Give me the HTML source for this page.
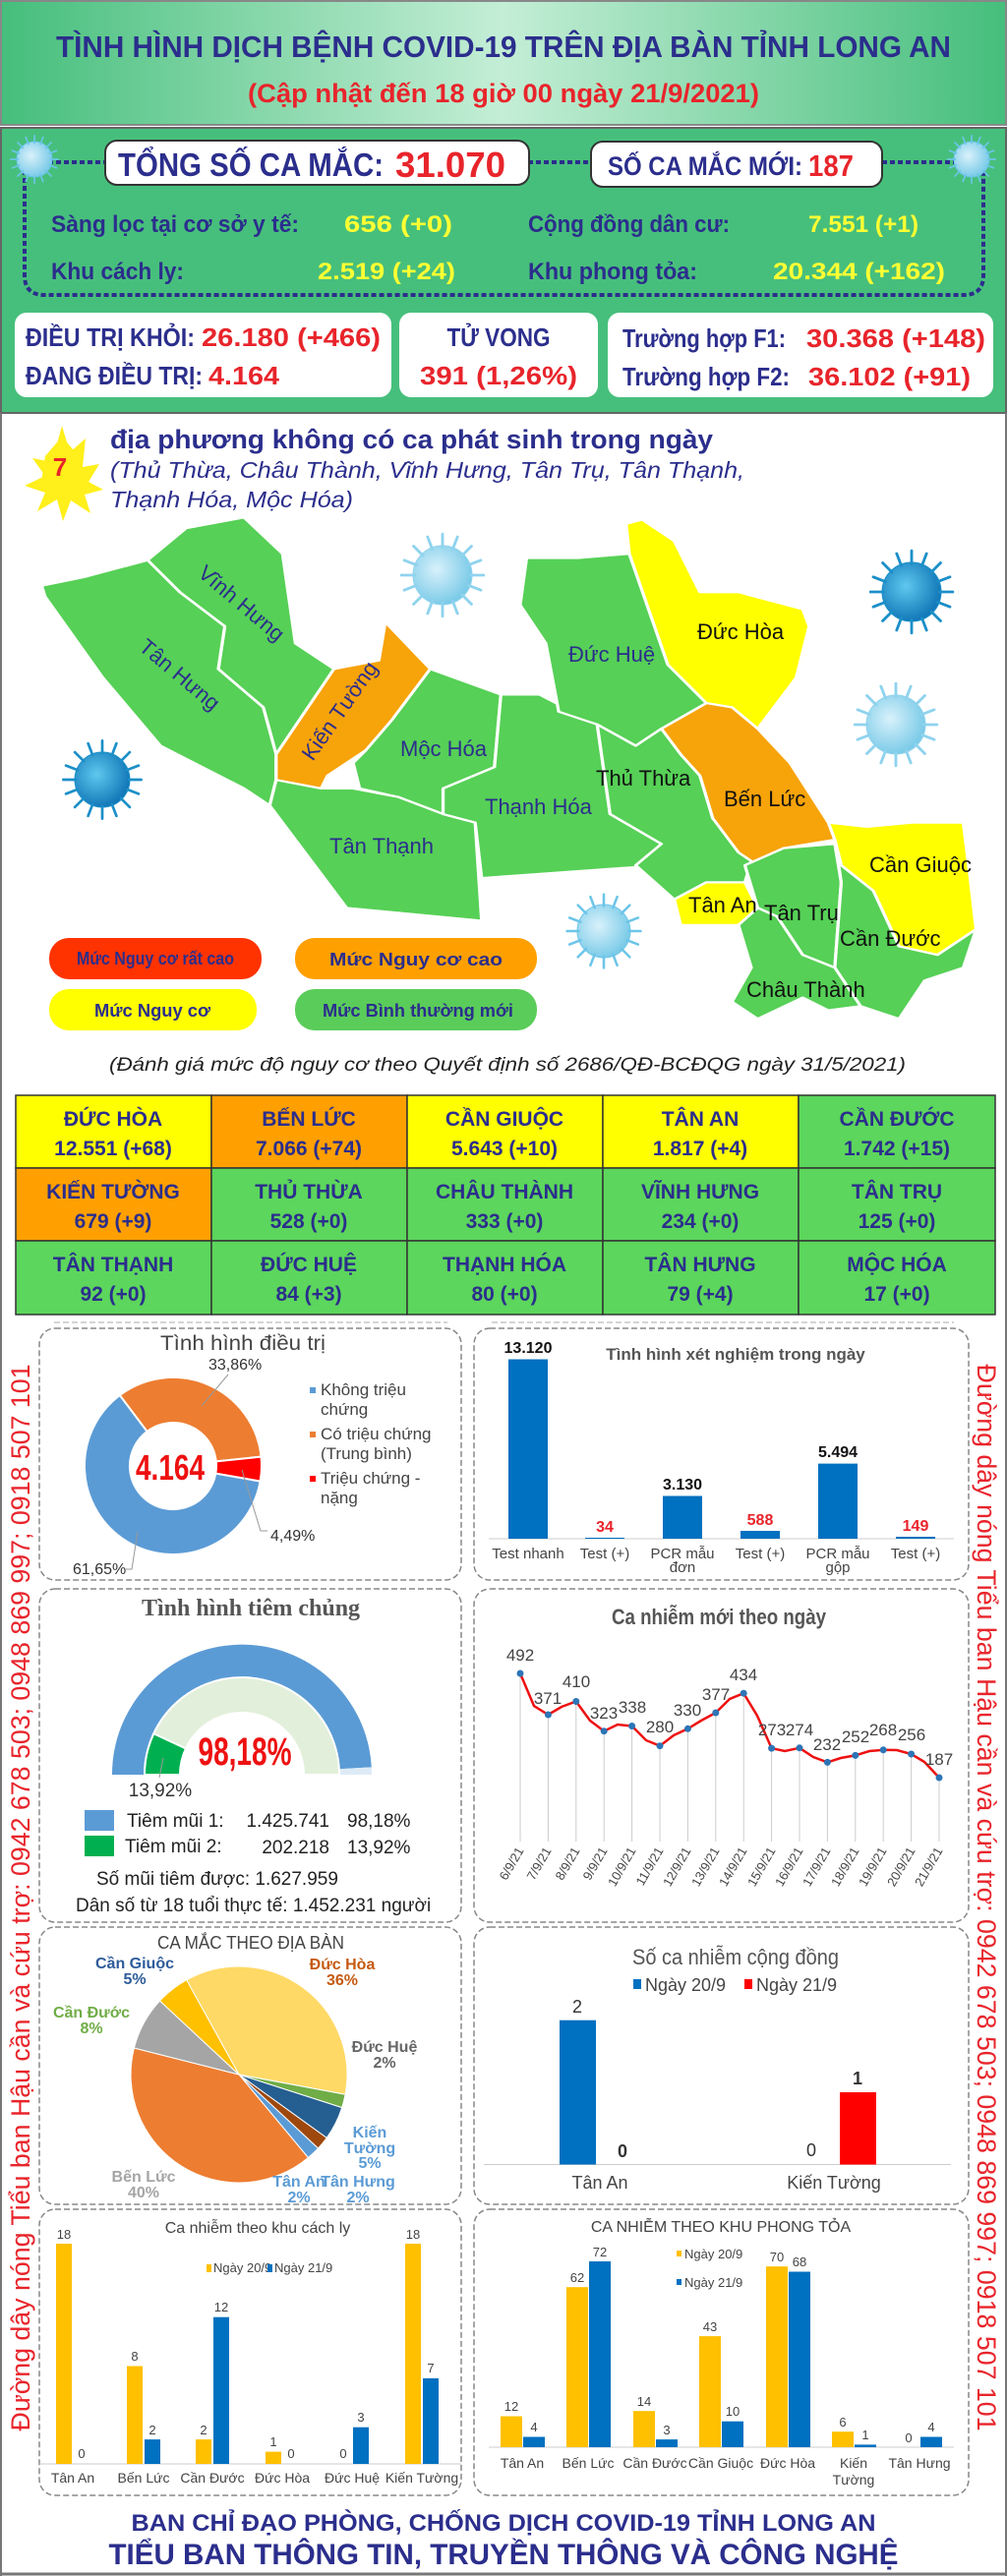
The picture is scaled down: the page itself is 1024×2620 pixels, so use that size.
<!DOCTYPE html>
<html><head><meta charset="utf-8"><style>
html,body{margin:0;padding:0;background:#fff}
svg{display:block}
text{font-family:"Liberation Sans",sans-serif}
</style></head><body>
<svg width="1024" height="2620" viewBox="0 0 1024 2620" xmlns="http://www.w3.org/2000/svg">
<defs>
<linearGradient id="hg" x1="0" x2="1" y1="0" y2="0">
<stop offset="0" stop-color="#45be7b"/><stop offset="0.5" stop-color="#c4eed6"/><stop offset="1" stop-color="#45be7b"/></linearGradient>
<radialGradient id="vd" cx="0.4" cy="0.4" r="0.6"><stop offset="0" stop-color="#5fc8ee"/><stop offset="1" stop-color="#1378b8"/></radialGradient>
<radialGradient id="vl" cx="0.4" cy="0.4" r="0.6"><stop offset="0" stop-color="#d8f1fb"/><stop offset="1" stop-color="#7ccbe8"/></radialGradient>
<g id="spk"><g stroke-width="3" stroke-linecap="round">
<line x1="0" y1="-30" x2="0" y2="-44"/><line x1="0" y1="30" x2="0" y2="44"/><line x1="-30" y1="0" x2="-44" y2="0"/><line x1="30" y1="0" x2="44" y2="0"/>
<line x1="21" y1="21" x2="31" y2="31"/><line x1="-21" y1="21" x2="-31" y2="31"/><line x1="21" y1="-21" x2="31" y2="-31"/><line x1="-21" y1="-21" x2="-31" y2="-31"/>
<line x1="11" y1="-28" x2="16" y2="-41"/><line x1="-11" y1="28" x2="-16" y2="41"/><line x1="28" y1="11" x2="41" y2="16"/><line x1="-28" y1="-11" x2="-41" y2="-16"/>
<line x1="-11" y1="-28" x2="-16" y2="-41"/><line x1="11" y1="28" x2="16" y2="41"/><line x1="28" y1="-11" x2="41" y2="-16"/><line x1="-28" y1="11" x2="-41" y2="16"/></g></g>
</defs>

<!-- HEADER -->
<rect x="0" y="0" width="1024" height="128" fill="url(#hg)"/>
<rect x="1" y="1" width="1022" height="126" fill="none" stroke="#888" stroke-width="2"/>
<text x="512" y="58" text-anchor="middle" font-size="31" font-weight="bold" fill="#2b2e8c" textLength="910" lengthAdjust="spacingAndGlyphs">TÌNH HÌNH DỊCH BỆNH COVID-19 TRÊN ĐỊA BÀN TỈNH LONG AN</text>
<text x="512" y="104" text-anchor="middle" font-size="27" font-weight="bold" fill="#e8242b" textLength="520" lengthAdjust="spacingAndGlyphs">(Cập nhật đến 18 giờ 00 ngày 21/9/2021)</text>

<!-- STATS -->
<rect x="0" y="130" width="1024" height="290" fill="#47bf7c"/>
<rect x="1" y="130" width="1022" height="290" fill="none" stroke="#666" stroke-width="2"/>
<path d="M25 165 L995 165 M25 165 L25 280 Q25 300 45 300 L980 300 Q1000 300 1000 280 L1000 165" fill="none" stroke="#2b2e8c" stroke-width="4" stroke-dasharray="5 3"/>
<g fill="url(#vl)" stroke="#6cc5e8"><circle cx="35" cy="162" r="18"/><use href="#spk" transform="translate(35 162) scale(0.55)"/><circle cx="988" cy="162" r="18"/><use href="#spk" transform="translate(988 162) scale(0.55)"/></g>
<rect x="107" y="143" width="431" height="45" rx="12" fill="#fff" stroke="#333" stroke-width="2"/>
<text x="120" y="179" font-size="33" font-weight="bold" fill="#2b2e8c" textLength="270" lengthAdjust="spacingAndGlyphs">TỔNG SỐ CA MẮC:</text>
<text x="402" y="180" font-size="36" font-weight="bold" fill="#e8242b" textLength="112" lengthAdjust="spacingAndGlyphs">31.070</text>
<rect x="601" y="144" width="296" height="46" rx="12" fill="#fff" stroke="#333" stroke-width="2"/>
<text x="618" y="178" font-size="27" font-weight="bold" fill="#2b2e8c" textLength="198" lengthAdjust="spacingAndGlyphs">SỐ CA MẮC MỚI:</text>
<text x="822" y="179" font-size="31" font-weight="bold" fill="#e8242b" textLength="46" lengthAdjust="spacingAndGlyphs">187</text>
<g font-size="24" font-weight="bold">
<text x="52" y="236" fill="#2b2e8c" textLength="252" lengthAdjust="spacingAndGlyphs">Sàng lọc tại cơ sở y tế:</text>
<text x="350" y="236" fill="#ffff33" textLength="110" lengthAdjust="spacingAndGlyphs">656 (+0)</text>
<text x="537" y="236" fill="#2b2e8c" textLength="205" lengthAdjust="spacingAndGlyphs">Cộng đồng dân cư:</text>
<text x="822" y="236" fill="#ffff33" textLength="112" lengthAdjust="spacingAndGlyphs">7.551 (+1)</text>
<text x="52" y="284" fill="#2b2e8c" textLength="135" lengthAdjust="spacingAndGlyphs">Khu cách ly:</text>
<text x="323" y="284" fill="#ffff33" textLength="140" lengthAdjust="spacingAndGlyphs">2.519 (+24)</text>
<text x="537" y="284" fill="#2b2e8c" textLength="172" lengthAdjust="spacingAndGlyphs">Khu phong tỏa:</text>
<text x="786" y="284" fill="#ffff33" textLength="175" lengthAdjust="spacingAndGlyphs">20.344 (+162)</text>
</g>
<rect x="15" y="318" width="383" height="86" rx="12" fill="#fff"/>
<rect x="406" y="318" width="202" height="86" rx="12" fill="#fff"/>
<rect x="618" y="318" width="392" height="86" rx="12" fill="#fff"/>
<g font-size="26" font-weight="bold">
<text x="26" y="352" fill="#2b2e8c" textLength="172" lengthAdjust="spacingAndGlyphs">ĐIỀU TRỊ KHỎI:</text>
<text x="205" y="352" fill="#e8242b" textLength="182" lengthAdjust="spacingAndGlyphs">26.180 (+466)</text>
<text x="26" y="391" fill="#2b2e8c" textLength="180" lengthAdjust="spacingAndGlyphs">ĐANG ĐIỀU TRỊ:</text>
<text x="212" y="391" fill="#e8242b" textLength="72" lengthAdjust="spacingAndGlyphs">4.164</text>
<text x="507" y="352" text-anchor="middle" fill="#2b2e8c" textLength="105" lengthAdjust="spacingAndGlyphs">TỬ VONG</text>
<text x="507" y="391" text-anchor="middle" fill="#e8242b" textLength="160" lengthAdjust="spacingAndGlyphs">391 (1,26%)</text>
<text x="633" y="353" fill="#2b2e8c" textLength="166" lengthAdjust="spacingAndGlyphs">Trường hợp F1:</text>
<text x="820" y="353" fill="#e8242b" textLength="182" lengthAdjust="spacingAndGlyphs">30.368 (+148)</text>
<text x="633" y="392" fill="#2b2e8c" textLength="170" lengthAdjust="spacingAndGlyphs">Trường hợp F2:</text>
<text x="822" y="392" fill="#e8242b" textLength="165" lengthAdjust="spacingAndGlyphs">36.102 (+91)</text>
</g>

<!-- MAP SECTION -->
<line x1="1" y1="420" x2="1" y2="2620" stroke="#777" stroke-width="2"/>
<line x1="1023" y1="420" x2="1023" y2="2620" stroke="#777" stroke-width="2"/>
<polygon points="63,433 71,460 87,446 84,475 101,472 90,490 105,498 86,503 92,522 72,509 64,530 58,508 38,520 46,501 25,494 46,484 33,466 53,470" fill="#ffef1a"/>
<polygon points="63,444 80,464 84,490 63,505 42,490 46,464" fill="#ffef1a"/>
<text x="61" y="484" text-anchor="middle" font-size="26" font-weight="bold" fill="#e8242b">7</text>
<text x="112" y="456" font-size="27" font-weight="bold" fill="#2b2e8c" textLength="613" lengthAdjust="spacingAndGlyphs">địa phương không có ca phát sinh trong ngày</text>
<text x="112" y="486" font-size="23" font-style="italic" fill="#2b2e8c" textLength="645" lengthAdjust="spacingAndGlyphs">(Thủ Thừa, Châu Thành, Vĩnh Hưng, Tân Trụ, Tân Thạnh,</text>
<text x="112" y="516" font-size="23" font-style="italic" fill="#2b2e8c" textLength="247" lengthAdjust="spacingAndGlyphs">Thạnh Hóa, Mộc Hóa)</text>

<g transform="translate(0 420) scale(0.653 0.434)" stroke="#fff" stroke-width="5" stroke-linejoin="round">
<polygon fill="#56d056" points="230,345 290,270 380,245 440,330 460,540 520,600 430,800 410,690 340,600 350,500 280,420"/>
<polygon fill="#56d056" points="65,405 130,385 230,345 280,420 350,500 340,600 410,690 430,800 430,860 420,920 380,880 250,780 160,620 70,430"/>
<polygon fill="#f7a30a" points="520,600 590,580 600,490 670,600 610,720 570,790 510,850 500,880 430,860 430,800"/>
<polygon fill="#56d056" points="670,600 780,660 770,830 690,880 690,940 620,900 560,880 550,820 570,790 610,720"/>
<polygon fill="#56d056" points="430,860 500,880 550,880 620,900 690,940 740,960 750,1190 540,1160 420,920"/>
<polygon fill="#56d056" points="780,660 840,660 930,730 950,940 1030,1010 1030,1060 750,1090 740,960 690,940 690,880 770,830"/>
<polygon fill="#56d056" points="820,340 900,340 980,330 1040,590 1100,680 1030,740 990,780 930,730 870,700 850,540 810,450"/>
<polygon fill="#ffff00" points="975,260 1000,250 1050,300 1090,420 1150,420 1250,460 1260,500 1240,620 1180,740 1140,690 1100,680 1040,590 980,330"/>
<polygon fill="#56d056" points="930,730 990,780 1030,740 1060,800 1090,850 1110,950 1170,1050 1160,1100 1100,1100 1050,1140 990,1060 1030,1010 950,940"/>
<polygon fill="#f7a30a" points="1030,740 1100,680 1140,690 1180,740 1230,820 1290,960 1300,1000 1220,1020 1180,1060 1150,1030 1110,950 1090,850 1060,800"/>
<polygon fill="#ffff00" points="1050,1140 1100,1100 1160,1100 1180,1160 1150,1200 1060,1200"/>
<polygon fill="#56d056" points="1160,1060 1220,1020 1300,1010 1310,1100 1300,1300 1250,1270 1210,1180 1180,1160"/>
<polygon fill="#ffff00" points="1290,960 1350,970 1420,960 1500,960 1510,1080 1520,1210 1460,1270 1400,1250 1360,1120 1310,1060 1300,1000"/>
<polygon fill="#56d056" points="1300,1000 1310,1060 1360,1120 1400,1250 1460,1270 1520,1210 1500,1300 1440,1330 1400,1420 1340,1390 1300,1300 1310,1100"/>
<polygon fill="#56d056" points="1150,1200 1180,1160 1210,1180 1250,1270 1300,1300 1340,1390 1290,1400 1250,1370 1180,1420 1140,1380 1170,1300"/>
</g>
<g font-size="22" fill="#2b2e8c">
<text transform="translate(200 585) rotate(40)">Vĩnh Hưng</text>
<text transform="translate(140 660) rotate(40)">Tân Hưng</text>
<text transform="translate(318 775) rotate(-55)" fill="#2b2e8c">Kiến Tường</text>
<text x="407" y="769">Mộc Hóa</text>
<text x="493" y="828">Thạnh Hóa</text>
<text x="335" y="868">Tân Thạnh</text>
<text x="578" y="673">Đức Huệ</text>
</g>
<g font-size="22" fill="#111">
<text x="709" y="650">Đức Hòa</text>
<text x="606" y="799">Thủ Thừa</text>
<text x="736" y="820">Bến Lức</text>
<text x="884" y="887">Cần Giuộc</text>
<text x="700" y="928">Tân An</text>
<text x="777" y="936">Tân Trụ</text>
<text x="854" y="962">Cần Đước</text>
<text x="759" y="1014">Châu Thành</text>
</g>
<g>
<g fill="url(#vl)" stroke="#8fd3ee"><circle cx="450" cy="585" r="30"/><use href="#spk" transform="translate(450 585) scale(0.95)"/></g>
<g fill="url(#vd)" stroke="#1b8fc8"><circle cx="927" cy="602" r="30"/><use href="#spk" transform="translate(927 602) scale(0.95)"/></g>
<g fill="url(#vl)" stroke="#8fd3ee"><circle cx="911" cy="737" r="30"/><use href="#spk" transform="translate(911 737) scale(0.95)"/></g>
<g fill="url(#vd)" stroke="#1b8fc8"><circle cx="104" cy="793" r="28"/><use href="#spk" transform="translate(104 793) scale(0.9)"/></g>
<g fill="url(#vl)" stroke="#6cc5e8"><circle cx="614" cy="947" r="27"/><use href="#spk" transform="translate(614 947) scale(0.85)"/></g>
</g>
<rect x="50" y="954" width="216" height="42" rx="20" fill="#ff3300"/>
<rect x="300" y="954" width="246" height="42" rx="20" fill="#ffa000"/>
<rect x="50" y="1006" width="211" height="42" rx="20" fill="#ffff00"/>
<rect x="300" y="1006" width="246" height="42" rx="20" fill="#5acc5a"/>
<g font-size="18" font-weight="bold" fill="#2b2e8c" text-anchor="middle">
<text x="158" y="981" textLength="160" lengthAdjust="spacingAndGlyphs">Mức Nguy cơ rất cao</text>
<text x="423" y="982" textLength="176" lengthAdjust="spacingAndGlyphs">Mức Nguy cơ cao</text>
<text x="155" y="1034" textLength="118" lengthAdjust="spacingAndGlyphs">Mức Nguy cơ</text>
<text x="425" y="1034" textLength="194" lengthAdjust="spacingAndGlyphs">Mức Bình thường mới</text>
</g>
<text x="516" y="1089" text-anchor="middle" font-size="19" font-style="italic" fill="#222" textLength="810" lengthAdjust="spacingAndGlyphs">(Đánh giá mức độ nguy cơ theo Quyết định số 2686/QĐ-BCĐQG ngày 31/5/2021)</text>

<!-- TABLE -->
<g stroke="#333" stroke-width="1.5">
<rect x="16" y="1114" width="199" height="74" fill="#ffff00"/><rect x="215" y="1114" width="199" height="74" fill="#ffa000"/><rect x="414" y="1114" width="199" height="74" fill="#ffff00"/><rect x="613" y="1114" width="199" height="74" fill="#ffff00"/><rect x="812" y="1114" width="200" height="74" fill="#5cd65c"/>
<rect x="16" y="1188" width="199" height="74" fill="#ffa000"/><rect x="215" y="1188" width="199" height="74" fill="#5cd65c"/><rect x="414" y="1188" width="199" height="74" fill="#5cd65c"/><rect x="613" y="1188" width="199" height="74" fill="#5cd65c"/><rect x="812" y="1188" width="200" height="74" fill="#5cd65c"/>
<rect x="16" y="1262" width="199" height="75" fill="#5cd65c"/><rect x="215" y="1262" width="199" height="75" fill="#5cd65c"/><rect x="414" y="1262" width="199" height="75" fill="#5cd65c"/><rect x="613" y="1262" width="199" height="75" fill="#5cd65c"/><rect x="812" y="1262" width="200" height="75" fill="#5cd65c"/>
</g>
<g font-size="21" font-weight="bold" fill="#2b2e8c" text-anchor="middle">
<text x="115" y="1145">ĐỨC HÒA</text><text x="115" y="1175">12.551 (+68)</text>
<text x="314" y="1145">BẾN LỨC</text><text x="314" y="1175">7.066 (+74)</text>
<text x="513" y="1145">CẦN GIUỘC</text><text x="513" y="1175">5.643 (+10)</text>
<text x="712" y="1145">TÂN AN</text><text x="712" y="1175">1.817 (+4)</text>
<text x="912" y="1145">CẦN ĐƯỚC</text><text x="912" y="1175">1.742 (+15)</text>
<text x="115" y="1219">KIẾN TƯỜNG</text><text x="115" y="1249">679 (+9)</text>
<text x="314" y="1219">THỦ THỪA</text><text x="314" y="1249">528 (+0)</text>
<text x="513" y="1219">CHÂU THÀNH</text><text x="513" y="1249">333 (+0)</text>
<text x="712" y="1219">VĨNH HƯNG</text><text x="712" y="1249">234 (+0)</text>
<text x="912" y="1219">TÂN TRỤ</text><text x="912" y="1249">125 (+0)</text>
<text x="115" y="1293">TÂN THẠNH</text><text x="115" y="1323">92 (+0)</text>
<text x="314" y="1293">ĐỨC HUỆ</text><text x="314" y="1323">84 (+3)</text>
<text x="513" y="1293">THẠNH HÓA</text><text x="513" y="1323">80 (+0)</text>
<text x="712" y="1293">TÂN HƯNG</text><text x="712" y="1323">79 (+4)</text>
<text x="912" y="1293">MỘC HÓA</text><text x="912" y="1323">17 (+0)</text>
</g>
<line x1="55" y1="1345" x2="455" y2="1345" stroke="#aaa" stroke-dasharray="6 3"/><line x1="500" y1="1345" x2="970" y2="1345" stroke="#aaa" stroke-dasharray="6 3"/>

<!-- vertical hotline texts -->
<text transform="translate(30 1930) rotate(-90)" text-anchor="middle" font-size="27" fill="#e8242b" textLength="1085" lengthAdjust="spacingAndGlyphs">Đường dây nóng Tiểu ban Hậu cần và cứu trợ: 0942 678 503; 0948 869 997; 0918 507 101</text>
<text transform="translate(994 1930) rotate(90)" text-anchor="middle" font-size="27" fill="#e8242b" textLength="1085" lengthAdjust="spacingAndGlyphs">Đường dây nóng Tiểu ban Hậu cần và cứu trợ: 0942 678 503; 0948 869 997; 0918 507 101</text>

<!-- chart boxes -->
<g fill="#fff" stroke="#888" stroke-width="1.5" stroke-dasharray="6 3">
<rect x="40" y="1351" width="429" height="256" rx="16"/><rect x="482" y="1351" width="503" height="256" rx="16"/>
<rect x="40" y="1616" width="429" height="339" rx="16"/><rect x="482" y="1616" width="503" height="339" rx="16"/>
<rect x="40" y="1960" width="429" height="282" rx="16"/><rect x="482" y="1960" width="503" height="282" rx="16"/>
<rect x="40" y="2247" width="429" height="291" rx="16"/><rect x="482" y="2247" width="503" height="291" rx="16"/>
</g>

<!-- Chart1 donut -->
<text x="247" y="1373" text-anchor="middle" font-size="21" fill="#444" textLength="168" lengthAdjust="spacingAndGlyphs">Tình hình điều trị</text>
<path d="M121.8 1419.1 A90 90 0 0 1 265.5 1481.6 L219.8 1486.4 A44 44 0 0 0 149.5 1455.9 Z" fill="#ed7d31" stroke="#fff" stroke-width="2"/>
<path d="M265.5 1481.6 A90 90 0 0 1 264.6 1506.6 L219.3 1498.6 A44 44 0 0 0 219.8 1486.4 Z" fill="#ff0000" stroke="#fff" stroke-width="2"/>
<path d="M264.6 1506.6 A90 90 0 1 1 121.8 1419.1 L149.5 1455.9 A44 44 0 1 0 219.3 1498.6 Z" fill="#5b9bd5" stroke="#fff" stroke-width="2"/>
<text x="173" y="1505" text-anchor="middle" font-size="36" font-weight="bold" fill="#ee1111" textLength="70" lengthAdjust="spacingAndGlyphs">4.164</text>
<g stroke="#999" fill="none"><path d="M232 1398 L205 1430"/><path d="M246 1495 L265 1557 L272 1557"/><path d="M140 1558 L134 1596 L128 1596"/></g>
<g font-size="16" fill="#333"><text x="212" y="1393">33,86%</text><text x="275" y="1567">4,49%</text><text x="74" y="1601">61,65%</text></g>
<g font-size="17" fill="#444">
<rect x="315" y="1411" width="6" height="6" fill="#5b9bd5"/><text x="326" y="1419">Không triệu</text><text x="326" y="1439">chứng</text>
<rect x="315" y="1456" width="6" height="6" fill="#ed7d31"/><text x="326" y="1464">Có triệu chứng</text><text x="326" y="1484">(Trung bình)</text>
<rect x="315" y="1501" width="6" height="6" fill="#ff0000"/><text x="326" y="1509">Triệu chứng -</text><text x="326" y="1529">nặng</text>
</g>

<!-- Chart2 tests -->
<text x="748" y="1383" text-anchor="middle" font-size="17" font-weight="bold" fill="#555">Tình hình xét nghiệm trong ngày</text>
<line x1="497" y1="1565" x2="970" y2="1565" stroke="#ccc"/>
<g fill="#0070c0">
<rect x="517" y="1382.5" width="40" height="182.5"/><rect x="595" y="1564" width="40" height="1"/><rect x="674" y="1521.5" width="40" height="43.5"/><rect x="753" y="1557" width="40" height="8"/><rect x="832" y="1488.6" width="40" height="76.4"/><rect x="911" y="1563" width="40" height="2"/>
</g>
<g font-size="16" font-weight="bold" text-anchor="middle">
<text x="537" y="1376" fill="#111">13.120</text><text x="615" y="1558" fill="#e8242b">34</text><text x="694" y="1515" fill="#111">3.130</text><text x="773" y="1551" fill="#e8242b">588</text><text x="852" y="1482" fill="#111">5.494</text><text x="931" y="1557" fill="#e8242b">149</text>
</g>
<g font-size="15" fill="#444" text-anchor="middle">
<text x="537" y="1585">Test nhanh</text><text x="615" y="1585">Test (+)</text><text x="694" y="1585">PCR mẫu</text><text x="694" y="1599">đơn</text><text x="773" y="1585">Test (+)</text><text x="852" y="1585">PCR mẫu</text><text x="852" y="1599">gộp</text><text x="931" y="1585">Test (+)</text>
</g>

<!-- Chart3 gauge -->
<text x="255" y="1643" text-anchor="middle" font-family="Liberation Serif,serif" font-size="24" font-weight="bold" fill="#555" style="font-family:'Liberation Serif',serif">Tình hình tiêm chủng</text>
<path d="M114 1805 A132 132 0 0 1 377.8 1797.4 L344.8 1799.3 A99 99 0 0 0 147 1805 Z" fill="#5b9bd5"/>
<path d="M377.8 1797.4 A132 132 0 0 1 378 1805 L345 1805 A99 99 0 0 0 344.8 1799.3 Z" fill="#deebf7"/>
<path d="M147 1805 A99 99 0 0 1 345 1805 L309 1805 A63 63 0 0 0 183 1805 Z" fill="#e2efda" stroke="#fff" stroke-width="2"/>
<path d="M147 1805 A99 99 0 0 1 156.3 1763.2 L188.9 1778.4 A63 63 0 0 0 183 1805 Z" fill="#00b050" stroke="#fff" stroke-width="2"/>
<line x1="166" y1="1788" x2="162" y2="1808" stroke="#999"/>
<text x="249" y="1795" text-anchor="middle" font-size="40" font-weight="bold" fill="#ee1111" textLength="95" lengthAdjust="spacingAndGlyphs">98,18%</text>
<text x="163" y="1827" text-anchor="middle" font-size="19" fill="#333">13,92%</text>
<rect x="86" y="1841" width="30" height="21" fill="#5b9bd5"/><rect x="86" y="1867" width="30" height="21" fill="#00b050"/>
<g font-size="19" fill="#222">
<text x="129" y="1858">Tiêm mũi 1:</text><text x="335" y="1858" text-anchor="end">1.425.741</text><text x="353" y="1858">98,18%</text>
<text x="127" y="1884">Tiêm mũi 2:</text><text x="335" y="1885" text-anchor="end">202.218</text><text x="353" y="1885">13,92%</text>
<text x="98" y="1917">Số mũi tiêm được:  1.627.959</text>
<text x="77" y="1944">Dân số từ 18 tuổi thực tế:  1.452.231 người</text>
</g>

<!-- Chart4 line -->
<text x="731" y="1652" text-anchor="middle" font-size="22" font-weight="bold" fill="#555" textLength="218" lengthAdjust="spacingAndGlyphs">Ca nhiễm mới theo ngày</text>
<g stroke="#ccc">
<line x1="529" y1="1702" x2="529" y2="1873"/><line x1="557.4" y1="1744" x2="557.4" y2="1873"/><line x1="585.8" y1="1730.5" x2="585.8" y2="1873"/><line x1="614.2" y1="1760.7" x2="614.2" y2="1873"/><line x1="642.6" y1="1755.5" x2="642.6" y2="1873"/><line x1="671" y1="1775.7" x2="671" y2="1873"/><line x1="699.4" y1="1758.3" x2="699.4" y2="1873"/><line x1="727.8" y1="1742" x2="727.8" y2="1873"/><line x1="756.2" y1="1722.2" x2="756.2" y2="1873"/><line x1="784.6" y1="1778.1" x2="784.6" y2="1873"/><line x1="813" y1="1777.8" x2="813" y2="1873"/><line x1="841.4" y1="1792.4" x2="841.4" y2="1873"/><line x1="869.8" y1="1785.4" x2="869.8" y2="1873"/><line x1="898.2" y1="1779.8" x2="898.2" y2="1873"/><line x1="926.6" y1="1784" x2="926.6" y2="1873"/><line x1="955" y1="1808" x2="955" y2="1873"/>
</g>
<polyline points="529,1702 543,1735 557.4,1744 571,1736 585.8,1730.5 600,1750 614.2,1760.7 628,1754 642.6,1755.5 657,1770 671,1775.7 685,1765 699.4,1758.3 713,1750 727.8,1742 742,1728 756.2,1722.2 770,1745 784.6,1778.1 798,1781 813,1777.8 827,1787 841.4,1792.4 855,1788 869.8,1785.4 884,1781 898.2,1779.8 912,1780 926.6,1784 940,1792 955,1808" fill="none" stroke="#ee1111" stroke-width="2.5"/>
<g fill="#2e75b6">
<circle cx="529" cy="1702" r="3.5"/><circle cx="557.4" cy="1744" r="3.5"/><circle cx="585.8" cy="1730.5" r="3.5"/><circle cx="614.2" cy="1760.7" r="3.5"/><circle cx="642.6" cy="1755.5" r="3.5"/><circle cx="671" cy="1775.7" r="3.5"/><circle cx="699.4" cy="1758.3" r="3.5"/><circle cx="727.8" cy="1742" r="3.5"/><circle cx="756.2" cy="1722.2" r="3.5"/><circle cx="784.6" cy="1778.1" r="3.5"/><circle cx="813" cy="1777.8" r="3.5"/><circle cx="841.4" cy="1792.4" r="3.5"/><circle cx="869.8" cy="1785.4" r="3.5"/><circle cx="898.2" cy="1779.8" r="3.5"/><circle cx="926.6" cy="1784" r="3.5"/><circle cx="955" cy="1808" r="3.5"/>
</g>
<g font-size="17" fill="#444" text-anchor="middle">
<text x="529" y="1689">492</text><text x="557" y="1733">371</text><text x="586" y="1716">410</text><text x="614" y="1748">323</text><text x="643" y="1742">338</text><text x="671" y="1762">280</text><text x="699" y="1745">330</text><text x="728" y="1729">377</text><text x="756" y="1709">434</text><text x="785" y="1765">273</text><text x="813" y="1765">274</text><text x="841" y="1780">232</text><text x="870" y="1772">252</text><text x="898" y="1765">268</text><text x="927" y="1770">256</text><text x="955" y="1795">187</text>
</g>
<g font-size="13" fill="#444" text-anchor="end">
<text transform="translate(533 1882) rotate(-60)">6/9/21</text><text transform="translate(561 1882) rotate(-60)">7/9/21</text><text transform="translate(590 1882) rotate(-60)">8/9/21</text><text transform="translate(618 1882) rotate(-60)">9/9/21</text><text transform="translate(647 1882) rotate(-60)">10/9/21</text><text transform="translate(675 1882) rotate(-60)">11/9/21</text><text transform="translate(703 1882) rotate(-60)">12/9/21</text><text transform="translate(732 1882) rotate(-60)">13/9/21</text><text transform="translate(760 1882) rotate(-60)">14/9/21</text><text transform="translate(789 1882) rotate(-60)">15/9/21</text><text transform="translate(817 1882) rotate(-60)">16/9/21</text><text transform="translate(845 1882) rotate(-60)">17/9/21</text><text transform="translate(874 1882) rotate(-60)">18/9/21</text><text transform="translate(902 1882) rotate(-60)">19/9/21</text><text transform="translate(931 1882) rotate(-60)">20/9/21</text><text transform="translate(959 1882) rotate(-60)">21/9/21</text>
</g>

<!-- Chart5 pie -->
<text x="255" y="1982" text-anchor="middle" font-size="18" fill="#444" textLength="190" lengthAdjust="spacingAndGlyphs">CA MẮC THEO ĐỊA BÀN</text>
<g stroke="#fff" stroke-width="1">
<path d="M243 2110 L189.7 2013.8 A110 110 0 0 1 351.1 2130.2 Z" fill="#ffd966"/>
<path d="M243 2110 L351.1 2130.2 A110 110 0 0 1 347.7 2143.6 Z" fill="#70ad47"/>
<path d="M243 2110 L347.7 2143.6 A110 110 0 0 1 332.2 2174.4 Z" fill="#255e91"/>
<path d="M243 2110 L332.2 2174.4 A110 110 0 0 1 323.5 2185 Z" fill="#9e480e"/>
<path d="M243 2110 L323.5 2185 A110 110 0 0 1 313.4 2194.5 Z" fill="#5b9bd5"/>
<path d="M243 2110 L313.4 2194.5 A110 110 0 0 1 136.4 2083 Z" fill="#ed7d31"/>
<path d="M243 2110 L136.4 2083 A110 110 0 0 1 162.5 2035 Z" fill="#a5a5a5"/>
<path d="M243 2110 L162.5 2035 A110 110 0 0 1 189.7 2013.8 Z" fill="#ffc000"/>
</g>
<g font-size="16" text-anchor="middle" font-weight="bold">
<text x="137" y="2002" fill="#2e5c9a">Cần Giuộc</text><text x="137" y="2018" fill="#2e5c9a">5%</text>
<text x="348" y="2003" fill="#c55a11">Đức Hòa</text><text x="348" y="2019" fill="#c55a11">36%</text>
<text x="93" y="2052" fill="#70ad47">Cần Đước</text><text x="93" y="2068" fill="#70ad47">8%</text>
<text x="391" y="2087" fill="#666">Đức Huệ</text><text x="391" y="2103" fill="#666">2%</text>
<text x="376" y="2174" fill="#5b9bd5">Kiến</text><text x="376" y="2190" fill="#5b9bd5">Tường</text><text x="376" y="2205" fill="#5b9bd5">5%</text>
<text x="304" y="2224" fill="#5b9bd5">Tân An</text><text x="304" y="2240" fill="#5b9bd5">2%</text>
<text x="364" y="2224" fill="#5b9bd5">Tân Hưng</text><text x="364" y="2240" fill="#5b9bd5">2%</text>
<text x="146" y="2219" fill="#a5a5a5">Bến Lức</text><text x="146" y="2235" fill="#a5a5a5">40%</text>
</g>

<!-- Chart6 community -->
<text x="748" y="1998" text-anchor="middle" font-size="22" fill="#555" textLength="210" lengthAdjust="spacingAndGlyphs">Số ca nhiễm cộng đồng</text>
<rect x="644" y="2013" width="8" height="10" fill="#0070c0"/><text x="656" y="2025" font-size="18" fill="#444">Ngày 20/9</text>
<rect x="757" y="2013" width="8" height="10" fill="#ff0000"/><text x="769" y="2025" font-size="18" fill="#444">Ngày 21/9</text>
<line x1="492" y1="2201.5" x2="967" y2="2201.5" stroke="#ccc"/>
<rect x="569" y="2054.7" width="37" height="146.8" fill="#0070c0"/>
<rect x="854" y="2128" width="37" height="73.5" fill="#ff0000"/>
<g font-size="18" text-anchor="middle" fill="#333">
<text x="587" y="2047">2</text><text x="633" y="2194" font-weight="bold">0</text><text x="825" y="2193">0</text><text x="872" y="2120" font-weight="bold">1</text>
<text x="610" y="2226" fill="#444">Tân An</text><text x="848" y="2226" fill="#444">Kiến Tường</text>
</g>

<!-- Chart7 isolation -->
<text x="262" y="2271" text-anchor="middle" font-size="16" fill="#444">Ca nhiễm theo khu cách ly</text>
<rect x="210" y="2303" width="5" height="8" fill="#ffc000"/><text x="217" y="2311" font-size="13" fill="#444">Ngày 20/9</text>
<rect x="272" y="2303" width="5" height="8" fill="#0070c0"/><text x="279" y="2311" font-size="13" fill="#444">Ngày 21/9</text>
<line x1="40" y1="2506" x2="469" y2="2506" stroke="#ccc"/>
<g fill="#ffc000">
<rect x="57" y="2282" width="16" height="224"/><rect x="129" y="2406.5" width="16" height="99.5"/><rect x="199" y="2481.1" width="16" height="24.9"/><rect x="270" y="2493.6" width="16" height="12.4"/><rect x="412" y="2282" width="16" height="224"/>
</g>
<g fill="#0070c0">
<rect x="147" y="2481.1" width="16" height="24.9"/><rect x="217" y="2356.7" width="16" height="149.3"/><rect x="359" y="2468.7" width="16" height="37.3"/><rect x="430" y="2418.9" width="16" height="87.1"/>
</g>
<g font-size="13" fill="#444" text-anchor="middle">
<text x="65" y="2277">18</text><text x="83" y="2500">0</text>
<text x="137" y="2401">8</text><text x="155" y="2476">2</text>
<text x="207" y="2476">2</text><text x="225" y="2351">12</text>
<text x="278" y="2488">1</text><text x="296" y="2500">0</text>
<text x="349" y="2500">0</text><text x="367" y="2463">3</text>
<text x="420" y="2277">18</text><text x="438" y="2413">7</text>
</g>
<g font-size="14" fill="#444" text-anchor="middle">
<text x="74" y="2525">Tân An</text><text x="146" y="2525">Bến Lức</text><text x="216" y="2525">Cần Đước</text><text x="287" y="2525">Đức Hòa</text><text x="358" y="2525">Đức Huệ</text><text x="429" y="2525">Kiến Tường</text>
</g>

<!-- Chart8 lockdown -->
<text x="733" y="2270" text-anchor="middle" font-size="16" fill="#444">CA NHIỄM THEO KHU PHONG TỎA</text>
<rect x="688" y="2289" width="5" height="6" fill="#ffc000"/><text x="696" y="2297" font-size="13" fill="#444">Ngày 20/9</text>
<rect x="688" y="2318" width="5" height="6" fill="#0070c0"/><text x="696" y="2326" font-size="13" fill="#444">Ngày 21/9</text>
<line x1="497" y1="2489" x2="970" y2="2489" stroke="#ccc"/>
<g fill="#ffc000">
<rect x="509" y="2457.5" width="22" height="31.5"/><rect x="576" y="2326.2" width="22" height="162.8"/><rect x="644" y="2452.2" width="22" height="36.8"/><rect x="711" y="2376.1" width="22" height="112.9"/><rect x="779" y="2305.2" width="22" height="183.8"/><rect x="846" y="2473.2" width="22" height="15.8"/>
</g>
<g fill="#0070c0">
<rect x="532" y="2478.5" width="22" height="10.5"/><rect x="599" y="2300" width="22" height="189"/><rect x="667" y="2481.1" width="22" height="7.9"/><rect x="734" y="2462.7" width="22" height="26.3"/><rect x="802" y="2310.5" width="22" height="178.5"/><rect x="869" y="2486.4" width="22" height="2.6"/><rect x="936" y="2478.5" width="22" height="10.5"/>
</g>
<g font-size="13" fill="#444" text-anchor="middle">
<text x="520" y="2452">12</text><text x="543" y="2473">4</text>
<text x="587" y="2321">62</text><text x="610" y="2295">72</text>
<text x="655" y="2447">14</text><text x="678" y="2476">3</text>
<text x="722" y="2371">43</text><text x="745" y="2457">10</text>
<text x="790" y="2300">70</text><text x="813" y="2305">68</text>
<text x="857" y="2468">6</text><text x="880" y="2481">1</text>
<text x="924" y="2484">0</text><text x="947" y="2473">4</text>
</g>
<g font-size="14" fill="#444" text-anchor="middle">
<text x="531" y="2510">Tân An</text><text x="598" y="2510">Bến Lức</text><text x="666" y="2510">Cần Đước</text><text x="733" y="2510">Cần Giuộc</text><text x="801" y="2510">Đức Hòa</text><text x="868" y="2510">Kiến</text><text x="868" y="2527">Tường</text><text x="935" y="2510">Tân Hưng</text>
</g>

<!-- FOOTER -->
<text x="512" y="2574" text-anchor="middle" font-size="24" font-weight="bold" fill="#2b2e8c" textLength="757" lengthAdjust="spacingAndGlyphs">BAN CHỈ ĐẠO PHÒNG, CHỐNG DỊCH COVID-19 TỈNH LONG AN</text>
<text x="512" y="2608" text-anchor="middle" font-size="30" font-weight="bold" fill="#2b2e8c" textLength="803" lengthAdjust="spacingAndGlyphs">TIỂU BAN THÔNG TIN, TRUYỀN THÔNG VÀ CÔNG NGHỆ</text>
<line x1="0" y1="2618" x2="1024" y2="2618" stroke="#777" stroke-width="3"/>
</svg>
</body></html>
